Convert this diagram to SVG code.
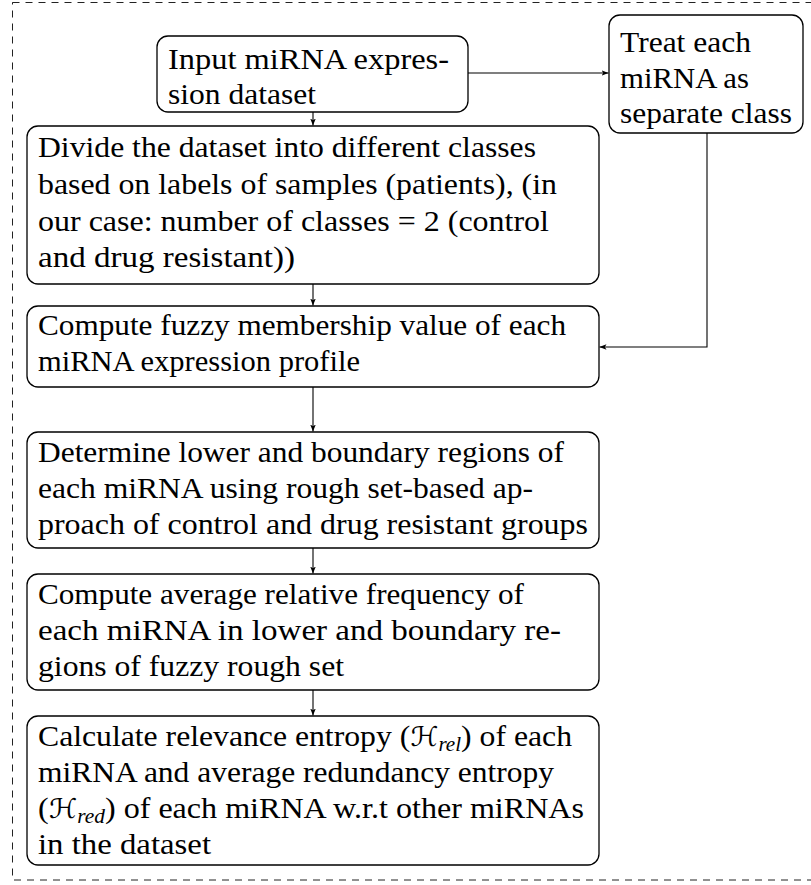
<svg xmlns="http://www.w3.org/2000/svg" width="811" height="885" viewBox="0 0 811 885">
  <style>
    .frame { fill: none; stroke: #222; stroke-width: 1; stroke-dasharray: 7 6; }
    .box { fill: #fff; stroke: #000; stroke-width: 1.3; }
    .lbl { font-family: "Liberation Serif", serif; font-size: 30px; fill: #000; }
    .cal { font-family: "DejaVu Sans", sans-serif; font-style: italic; font-size: 27px; }
    .sub { font-style: italic; font-size: 20px; }
    .edge { fill: none; stroke: #000; stroke-width: 1.1; marker-end: url(#tip); }
  </style>
  <defs>
    <marker id="tip" viewBox="0 0 10 10" refX="10" refY="5" markerWidth="7" markerHeight="7" markerUnits="userSpaceOnUse" orient="auto">
      <path d="M0,1 L10,5 L0,9 L2.5,5 Z" fill="#000"/>
    </marker>
  </defs>

  <!-- dashed outer frame -->
  <rect class="frame" x="12.5" y="2.5" width="820" height="877.5"/>

  <g id="connectors">
    <path class="edge" d="M313,112 V125.5"/>
    <path class="edge" d="M468,73 H608.5"/>
    <path class="edge" d="M313,284 V305.5"/>
    <path class="edge" d="M313,387 V431.5"/>
    <path class="edge" d="M313,548 V573.5"/>
    <path class="edge" d="M313,690 V715.5"/>
    <path class="edge" d="M707,133 V347 H599.5"/>
  </g>

  <g id="input">
    <rect class="box" x="157" y="36" width="311" height="76" rx="11"/>
    <text class="lbl" x="168" y="69" textLength="281" lengthAdjust="spacingAndGlyphs">Input miRNA expres-</text>
    <text class="lbl" x="168" y="104" textLength="148" lengthAdjust="spacingAndGlyphs">sion dataset</text>
  </g>

  <g id="treat">
    <rect class="box" x="609" y="15" width="194" height="118" rx="11"/>
    <text class="lbl" x="620" y="52" textLength="131" lengthAdjust="spacingAndGlyphs">Treat each</text>
    <text class="lbl" x="620" y="88" textLength="129" lengthAdjust="spacingAndGlyphs">miRNA as</text>
    <text class="lbl" x="620" y="123" textLength="172" lengthAdjust="spacingAndGlyphs">separate class</text>
  </g>

  <g id="divide">
    <rect class="box" x="27" y="126" width="572" height="158" rx="11"/>
    <text class="lbl" x="38" y="157" textLength="498" lengthAdjust="spacingAndGlyphs">Divide the dataset into different classes</text>
    <text class="lbl" x="38" y="194" textLength="519" lengthAdjust="spacingAndGlyphs">based on labels of samples (patients), (in</text>
    <text class="lbl" x="38" y="231" textLength="511" lengthAdjust="spacingAndGlyphs">our case:  number of classes = 2 (control</text>
    <text class="lbl" x="38" y="267" textLength="257" lengthAdjust="spacingAndGlyphs">and drug resistant))</text>
  </g>

  <g id="fuzzy">
    <rect class="box" x="27" y="306" width="572" height="81" rx="11"/>
    <text class="lbl" x="38" y="335" textLength="528" lengthAdjust="spacingAndGlyphs">Compute fuzzy membership value of each</text>
    <text class="lbl" x="38" y="371" textLength="322" lengthAdjust="spacingAndGlyphs">miRNA expression profile</text>
  </g>

  <g id="regions">
    <rect class="box" x="27" y="432" width="572" height="116" rx="11"/>
    <text class="lbl" x="38" y="462" textLength="526" lengthAdjust="spacingAndGlyphs">Determine lower and boundary regions of</text>
    <text class="lbl" x="38" y="498" textLength="495" lengthAdjust="spacingAndGlyphs">each miRNA using rough set-based ap-</text>
    <text class="lbl" x="38" y="534" textLength="550" lengthAdjust="spacingAndGlyphs">proach of control and drug resistant groups</text>
  </g>

  <g id="frequency">
    <rect class="box" x="27" y="574" width="572" height="116" rx="11"/>
    <text class="lbl" x="38" y="604" textLength="486" lengthAdjust="spacingAndGlyphs">Compute average relative frequency of</text>
    <text class="lbl" x="38" y="640" textLength="523" lengthAdjust="spacingAndGlyphs">each miRNA in lower and boundary re-</text>
    <text class="lbl" x="38" y="676" textLength="306" lengthAdjust="spacingAndGlyphs">gions of fuzzy rough set</text>
  </g>

  <g id="entropy">
    <rect class="box" x="27" y="716" width="572" height="149" rx="11"/>
    <text class="lbl" x="38" y="746" textLength="534" lengthAdjust="spacingAndGlyphs">Calculate relevance entropy (<tspan class="cal">ℋ</tspan><tspan class="sub" dy="5">rel</tspan><tspan dy="-5">) of each</tspan></text>
    <text class="lbl" x="38" y="782" textLength="516" lengthAdjust="spacingAndGlyphs">miRNA and average redundancy entropy</text>
    <text class="lbl" x="38" y="818" textLength="546" lengthAdjust="spacingAndGlyphs">(<tspan class="cal">ℋ</tspan><tspan class="sub" dy="5">red</tspan><tspan dy="-5">) of each miRNA w.r.t other miRNAs</tspan></text>
    <text class="lbl" x="38" y="854" textLength="173" lengthAdjust="spacingAndGlyphs">in the dataset</text>
  </g>
</svg>
